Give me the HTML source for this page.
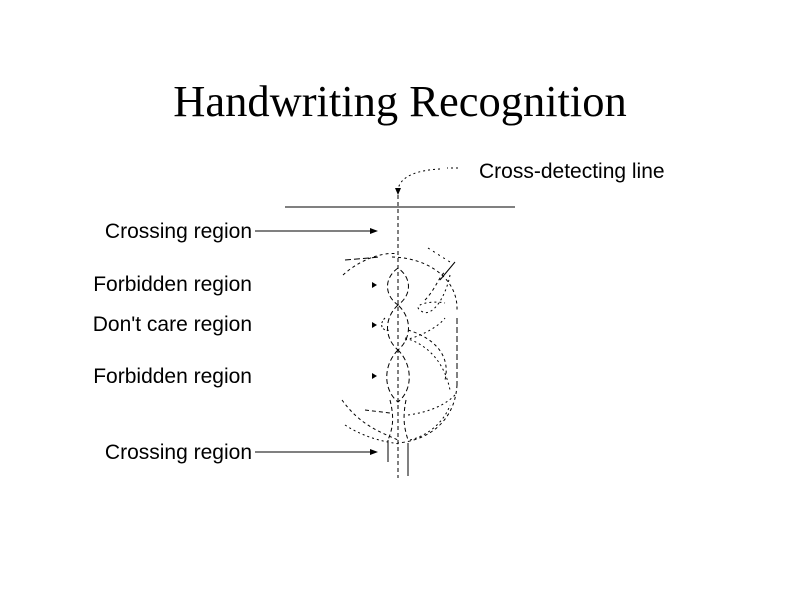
<!DOCTYPE html>
<html><head><style>
body{margin:0;background:#fff;width:800px;height:600px;overflow:hidden}
</style></head><body>
<svg width="800" height="600" xmlns="http://www.w3.org/2000/svg">
<text x="400" y="116" text-anchor="middle" font-family="Liberation Serif, serif" font-size="44.5">Handwriting Recognition</text>
<g font-family="Liberation Sans, sans-serif" font-size="21" fill="#000">
<text x="479" y="178">Cross-detecting line</text>
<text x="252" y="238" text-anchor="end">Crossing region</text>
<text x="252" y="291" text-anchor="end">Forbidden region</text>
<text x="252" y="331" text-anchor="end">Don't care region</text>
<text x="252" y="383" text-anchor="end">Forbidden region</text>
<text x="252" y="459" text-anchor="end">Crossing region</text>
</g>
<g stroke="#000" fill="none" stroke-width="1">
<line x1="285" y1="207" x2="515" y2="207"/>
<line x1="398" y1="195" x2="398" y2="478" stroke-dasharray="4,3"/>
<path d="M458,168 L447,168 M440,169 C420,170 400,175 398,190" stroke-dasharray="2,3"/>
<line x1="255" y1="231" x2="372" y2="231"/>
<line x1="255" y1="452" x2="372" y2="452"/>
<line x1="408" y1="443" x2="408" y2="476"/>
<line x1="388" y1="440" x2="388" y2="462"/>
<path d="M398,268 C384,278 384,295 398,305 C412,295 412,278 398,268 Z" stroke-dasharray="5,3"/>
<path d="M398,305 C384,318 384,338 398,350 C412,338 412,318 398,305 Z" stroke-dasharray="5,3"/>
<path d="M398,350 C383,365 383,390 398,402 C413,390 413,365 398,350 Z" stroke-dasharray="5,3"/>
<path d="M343,275 C365,255 390,252 398,254" stroke-dasharray="3,3"/>
<path d="M345,260 L380,257" stroke-dasharray="6,3"/>
<path d="M392,257 C430,258 458,280 457,310" stroke-dasharray="3,3"/>
<path d="M457,318 L457,385" stroke-dasharray="6,3"/>
<path d="M457,385 C455,420 430,440 398,443" stroke-dasharray="3,3"/>
<path d="M428,248 L450,262" stroke-dasharray="2,4"/>
<path d="M455,262 L440,280"/>
<path d="M450,275 C445,300 430,320 420,310 C412,305 430,300 445,303" stroke-dasharray="2,3"/>
<path d="M425,300 C435,290 440,275 445,272" stroke-dasharray="3,3"/>
<path d="M408,330 C440,340 450,360 445,380" stroke-dasharray="3,3"/>
<path d="M405,338 C430,345 445,365 450,390" stroke-dasharray="2,3"/>
<path d="M405,340 C425,335 440,325 445,318" stroke-dasharray="2,3"/>
<path d="M342,400 C360,425 380,432 398,440" stroke-dasharray="3,3"/>
<path d="M345,425 C365,438 385,442 400,444" stroke-dasharray="2,3"/>
<path d="M365,410 L390,413" stroke-dasharray="4,3"/>
<path d="M408,415 C430,412 445,405 455,395" stroke-dasharray="2,3"/>
<path d="M410,440 C430,435 445,420 450,405" stroke-dasharray="2,3"/>
<path d="M390,400 C395,420 392,430 388,440" stroke-dasharray="4,3"/>
<path d="M406,400 C402,420 405,430 408,440" stroke-dasharray="4,3"/>
<path d="M385,318 C378,325 383,332 390,330" stroke-dasharray="2,2"/>
</g>
<g fill="#000">
<polygon points="378,231 370,228 370,234"/>
<polygon points="378,452 370,449 370,455"/>
<polygon points="377,285 372,282 372,288"/>
<polygon points="377,325 372,322 372,328"/>
<polygon points="377,376 372,373 372,379"/>
<polygon points="398,195 395,188 401,188"/>
</g>
</svg>
</body></html>
